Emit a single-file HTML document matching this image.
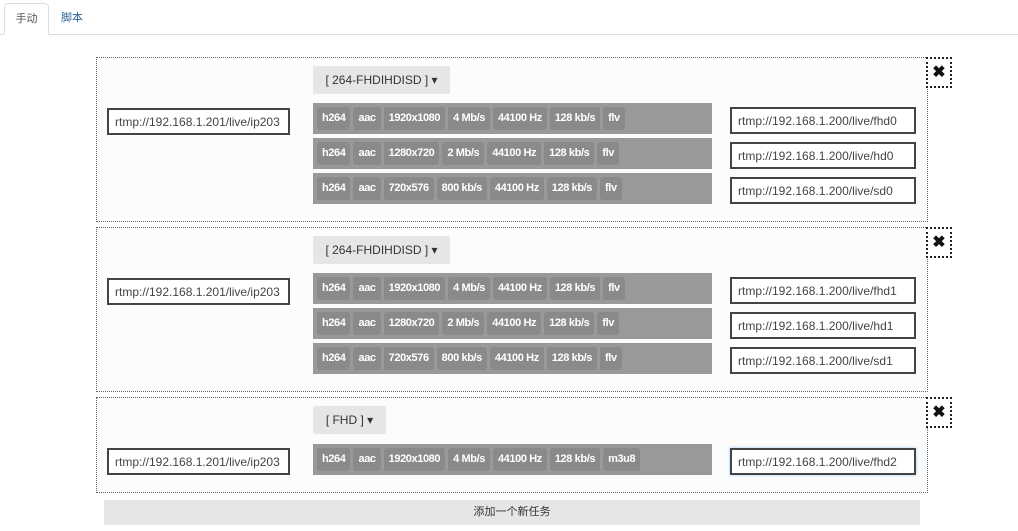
<!DOCTYPE html>
<html><head><meta charset="utf-8"><style>
*{box-sizing:border-box;margin:0;padding:0}
body{width:1018px;height:531px;background:#fff;position:relative;overflow:hidden;font-family:"Liberation Sans","Noto Sans CJK SC",sans-serif;}
.a{position:absolute}
.tabline{left:0;top:34px;width:1018px;height:1px;background:#ddd}
.tab{top:3px;height:32px;font-size:11px;line-height:30px;text-align:center}
.tab1{left:4px;width:45px;border:1px solid #ddd;border-bottom:1px solid #fff;border-radius:4px 4px 0 0;color:#555;background:#fff;z-index:2}
.tab2{left:56px;width:32px;color:#2a6496}
.panel{left:96px;width:832px;border:1px dotted #666;background:#fcfcfc}
.close{left:926px;width:26px;height:31px;border:2px dotted #222;font-size:16px;font-weight:bold;text-align:center;line-height:27px;color:#111;background:#fff}
.dd{left:313px;height:28px;background:#e6e6e6;font-size:12px;color:#333;line-height:28px;text-align:center;border-radius:2px}
.inp{height:27px;border:2px solid #444;background:#fff;font-size:12px;color:#444;line-height:24px;padding-left:6px;white-space:nowrap}
.bar{left:313px;width:399px;height:31px;background:#999;display:flex;align-items:center;padding-left:4px;gap:3px}
.b{height:23px;background:#8a8a8a;border-radius:3px;color:#fff;font-size:11px;font-weight:bold;line-height:23px;padding:0 5px;letter-spacing:-0.4px;white-space:nowrap}
.add{left:104px;top:500px;width:816px;height:25px;background:#e6e6e6;font-size:11px;color:#333;text-align:center;line-height:25px}
</style></head><body>
<div class="a tabline"></div>
<div class="a tab tab1">手动</div>
<div class="a tab tab2">脚本</div>

<div class="a panel" style="top:57px;height:165px"></div>
<div class="a close" style="top:57px">✖</div>
<div class="a dd" style="top:66px;width:137px">[ 264-FHDIHDISD ] ▾</div>
<div class="a inp" style="left:107px;top:108px;width:183px">rtmp://192.168.1.201/live/ip203</div>
<div class="a bar" style="top:103px"><span class="b">h264</span><span class="b">aac</span><span class="b">1920x1080</span><span class="b">4 Mb/s</span><span class="b">44100 Hz</span><span class="b">128 kb/s</span><span class="b">flv</span></div>
<div class="a bar" style="top:138px"><span class="b">h264</span><span class="b">aac</span><span class="b">1280x720</span><span class="b">2 Mb/s</span><span class="b">44100 Hz</span><span class="b">128 kb/s</span><span class="b">flv</span></div>
<div class="a bar" style="top:173px"><span class="b">h264</span><span class="b">aac</span><span class="b">720x576</span><span class="b">800 kb/s</span><span class="b">44100 Hz</span><span class="b">128 kb/s</span><span class="b">flv</span></div>
<div class="a inp" style="left:730px;top:107px;width:186px">rtmp://192.168.1.200/live/fhd0</div>
<div class="a inp" style="left:730px;top:142px;width:186px">rtmp://192.168.1.200/live/hd0</div>
<div class="a inp" style="left:730px;top:177px;width:186px">rtmp://192.168.1.200/live/sd0</div>

<div class="a panel" style="top:227px;height:165px"></div>
<div class="a close" style="top:227px">✖</div>
<div class="a dd" style="top:236px;width:137px">[ 264-FHDIHDISD ] ▾</div>
<div class="a inp" style="left:107px;top:278px;width:183px">rtmp://192.168.1.201/live/ip203</div>
<div class="a bar" style="top:273px"><span class="b">h264</span><span class="b">aac</span><span class="b">1920x1080</span><span class="b">4 Mb/s</span><span class="b">44100 Hz</span><span class="b">128 kb/s</span><span class="b">flv</span></div>
<div class="a bar" style="top:308px"><span class="b">h264</span><span class="b">aac</span><span class="b">1280x720</span><span class="b">2 Mb/s</span><span class="b">44100 Hz</span><span class="b">128 kb/s</span><span class="b">flv</span></div>
<div class="a bar" style="top:343px"><span class="b">h264</span><span class="b">aac</span><span class="b">720x576</span><span class="b">800 kb/s</span><span class="b">44100 Hz</span><span class="b">128 kb/s</span><span class="b">flv</span></div>
<div class="a inp" style="left:730px;top:277px;width:186px">rtmp://192.168.1.200/live/fhd1</div>
<div class="a inp" style="left:730px;top:312px;width:186px">rtmp://192.168.1.200/live/hd1</div>
<div class="a inp" style="left:730px;top:347px;width:186px">rtmp://192.168.1.200/live/sd1</div>

<div class="a panel" style="top:397px;height:96px"></div>
<div class="a close" style="top:397px">✖</div>
<div class="a dd" style="top:406px;width:73px">[ FHD ] ▾</div>
<div class="a inp" style="left:107px;top:448px;width:183px">rtmp://192.168.1.201/live/ip203</div>
<div class="a bar" style="top:444px"><span class="b">h264</span><span class="b">aac</span><span class="b">1920x1080</span><span class="b">4 Mb/s</span><span class="b">44100 Hz</span><span class="b">128 kb/s</span><span class="b">m3u8</span></div>
<div class="a inp" style="left:730px;top:448px;width:186px;box-shadow:0 0 3px #9cf">rtmp://192.168.1.200/live/fhd2</div>

<div class="a add">添加一个新任务</div>
</body></html>
